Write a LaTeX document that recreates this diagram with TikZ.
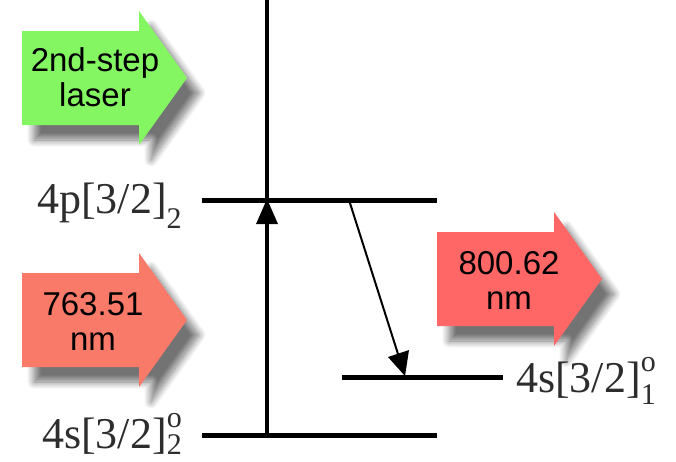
\documentclass[tikz,border=0pt]{standalone}
\usepackage{fontspec}
\setmainfont{Liberation Serif}
\newfontfamily\arialf{Liberation Sans}
\usetikzlibrary{shadows.blur}
\definecolor{grn}{RGB}{132,246,98}
\definecolor{salmonA}{RGB}{250,122,106}
\definecolor{salmonB}{RGB}{255,102,102}
\definecolor{lbltext}{RGB}{45,45,45}
\newcommand\lev[4]{#1\makebox[0pt][l]{\raisebox{21pt}{\fontsize{30}{30}\selectfont #2}}\raisebox{-#4}{\fontsize{30}{30}\selectfont #3}}
\newcommand\blockarr[2]{%
  \path[fill=#1, blur shadow={shadow xshift=12pt, shadow yshift=-15pt, shadow blur radius=7pt, shadow blur steps=12, shadow opacity=55}]
    (#2) ++(0,-47) -- ++(117,0) -- ++(0,-20) -- ++(48,67) -- ++(-48,67) -- ++(0,-20) -- ++(-117,0) -- cycle;}
\begin{document}
\begin{tikzpicture}[x=1pt,y=-1pt,
  level/.style={line width=5pt},
  vline/.style={line width=4pt},
  arrtext/.style={font=\arialf\fontsize{33}{35}\selectfont, align=center, inner sep=0pt, text=black},
  lvltext/.style={font=\fontsize{44}{44}\selectfont, inner sep=0pt, text=lbltext}]
\useasboundingbox (0,0) rectangle (676,461);
% block arrows
\coordinate (ga) at (22,78);
\coordinate (ra) at (22,320);
\coordinate (rb) at (437,279);
\blockarr{grn}{ga}
\blockarr{salmonA}{ra}
\blockarr{salmonB}{rb}
\node[arrtext] (gt) at (95,77) {2nd-step\\laser};
\node[arrtext] (rt1) at (93,321) {763.51\\nm};
\node[arrtext] (rt2) at (509,280) {800.62\\nm};
% levels
\coordinate (u1) at (202,200); \coordinate (u2) at (437,200);
\coordinate (m1) at (342,377); \coordinate (m2) at (503,377);
\coordinate (b1) at (202,435); \coordinate (b2) at (437,435);
\coordinate (vt) at (267,0); \coordinate (vb) at (267,435);
\draw[vline] (vt) -- (vb);
\coordinate (va) at (267,199);
\coordinate (va1) at (278,224);
\coordinate (va2) at (256,224);
\fill (va) -- (va1) -- (va2) -- cycle;
\draw[level] (u1) -- (u2);
\draw[level] (m1) -- (m2);
\draw[level] (b1) -- (b2);
% decay arrow
\coordinate (d1) at (349,200);
\coordinate (d2) at (405,376);
\coordinate (dh) at (398,354);
\coordinate (dh1) at (409,350);
\coordinate (dh2) at (388,357);
\draw[line width=2pt] (d1) -- (dh);
\fill (d2) -- (dh1) -- (dh2) -- cycle;
% labels
\node[lvltext, anchor=base west] (l4p) at (37,213) {\lev{4p[3/2]}{}{2}{15pt}};
\node[lvltext, anchor=base west] (l4s1) at (516,392) {\lev{4s[3/2]}{o}{1}{12pt}};
\node[lvltext, anchor=base west] (l4s2) at (42,448) {\lev{4s[3/2]}{o}{2}{6pt}};
\end{tikzpicture}
\end{document}
